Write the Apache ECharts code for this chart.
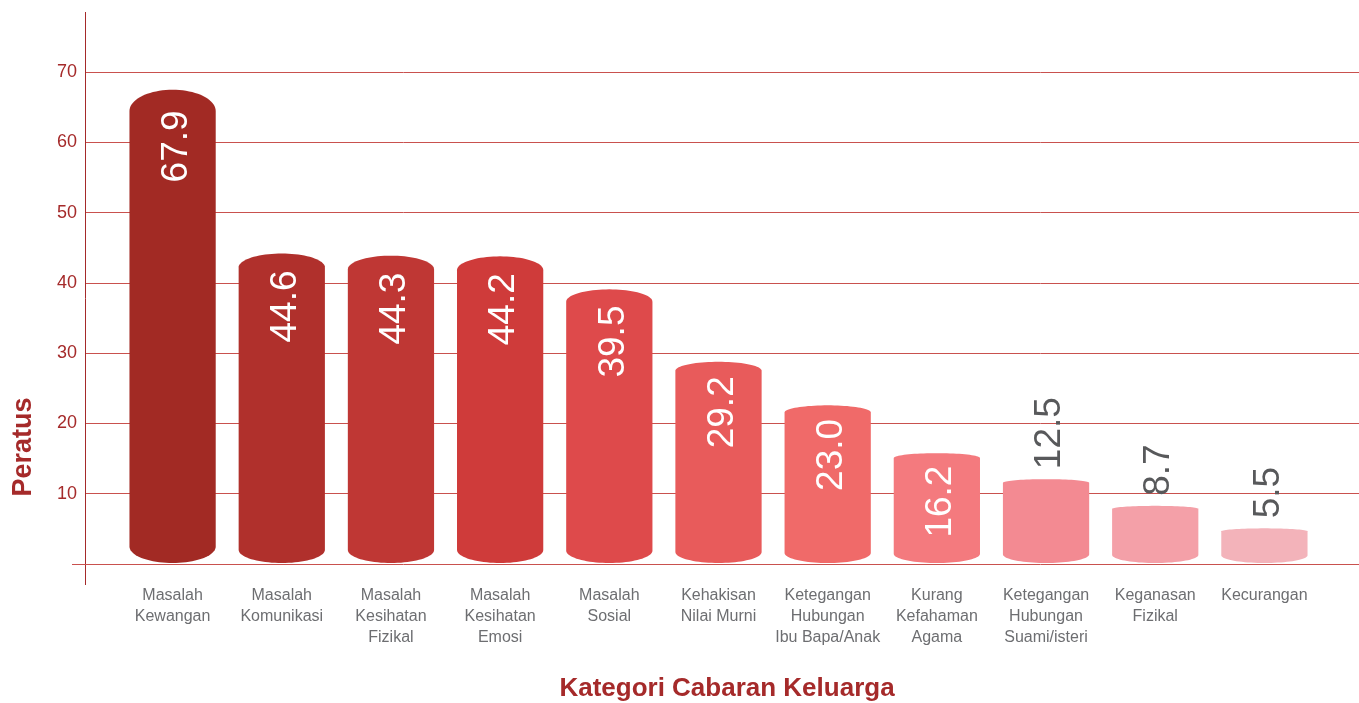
<!DOCTYPE html>
<html>
<head>
<meta charset="utf-8">
<script src="https://cdn.jsdelivr.net/npm/echarts@6/dist/echarts.min.js"></script>
<style>
html,body{margin:0;padding:0;background:#fff;}
#chart{width:1359px;height:703px;}
</style>
</head>
<body>
<div id="chart"></div>
<script>
const categories = [
  "Masalah\nKewangan",
  "Masalah\nKomunikasi",
  "Masalah\nKesihatan\nFizikal",
  "Masalah\nKesihatan\nEmosi",
  "Masalah\nSosial",
  "Kehakisan\nNilai Murni",
  "Ketegangan\nHubungan\nIbu Bapa/Anak",
  "Kurang\nKefahaman\nAgama",
  "Ketegangan\nHubungan\nSuami/isteri",
  "Keganasan\nFizikal",
  "Kecurangan"
];
const values = [67.9, 44.6, 44.3, 44.2, 39.5, 29.2, 23.0, 16.2, 12.5, 8.7, 5.5];
const yTicks = [0, 10, 20, 30, 40, 50, 60, 70];
const barColors = ["#a22a24", "#b0302c", "#bf3734", "#cf3b3a", "#de4a4b", "#e85b5b", "#f06a69", "#f47a7e", "#f38a92", "#f4a0a8", "#f3b3ba"];

const RED = "#a52a2a";
const FONT = "'Liberation Sans', Arial, Helvetica, sans-serif";

const chart = echarts.init(document.getElementById('chart'), null, {renderer: 'canvas'});

function renderBar(params, api) {
  const i = api.value(0);
  const v = api.value(1);
  const topPt = api.coord([i, v]);
  const basePt = api.coord([i, 0]);
  const band = api.size([1, 0])[0];
  const rx = band * 0.79 / 2;
  const cx = topPt[0];
  const yTop = topPt[1] + 3;
  const yBot = basePt[1] - 1;
  const h = yBot - yTop;
  const ryT = Math.max(3, 0.045 * h);
  const ryB = 7 + 0.02 * h;
  const pts = [];
  const N = 40;
  for (let k = 0; k <= N; k++) {
    const a = Math.PI + Math.PI * k / N;
    pts.push([cx + rx * Math.cos(a), yTop + ryT + ryT * Math.sin(a)]);
  }
  for (let k = 0; k <= N; k++) {
    const a = Math.PI * k / N;
    pts.push([cx + rx * Math.cos(a), yBot - ryB + ryB * Math.sin(a)]);
  }
  const inside = v > 15;
  const children = [
    {
      type: 'polygon',
      shape: {points: pts},
      style: {fill: barColors[params.dataIndex % barColors.length]}
    },
    {
      type: 'text',
      x: cx + 4,
      y: inside ? yTop + 10 + 0.5 * ryT : yTop - 10,
      rotation: Math.PI / 2,
      style: {
        text: v.toFixed(1),
        fill: inside ? '#ffffff' : '#58595b',
        fontSize: 37,
        fontFamily: FONT,
        align: inside ? 'right' : 'left',
        verticalAlign: 'middle'
      }
    }
  ];
  return {type: 'group', children: children};
}

const option = {
  animation: false,
  backgroundColor: '#ffffff',
  grid: [
    {left: 85, right: 0, top: 72, bottom: 139},
    {left: 118, right: 40, top: 72, bottom: 139}
  ],
  xAxis: [
    {gridIndex: 0, type: 'value', show: false, min: 0, max: 1},
    {
      gridIndex: 1,
      type: 'category',
      data: categories,
      axisLine: {show: false},
      axisTick: {show: false},
      axisLabel: {
        interval: 0,
        margin: 21,
        color: '#6d6e71',
        fontSize: 16,
        lineHeight: 21,
        fontFamily: FONT
      }
    }
  ],
  yAxis: [
    {
      gridIndex: 0,
      type: 'value',
      min: yTicks[0],
      max: yTicks[yTicks.length - 1],
      interval: yTicks[1] - yTicks[0],
      axisLine: {show: false},
      axisTick: {show: false},
      axisLabel: {
        color: RED,
        fontSize: 18,
        margin: 8,
        fontFamily: FONT,
        formatter: function (v) { return v === 0 ? '' : String(v); }
      },
      splitLine: {show: true, lineStyle: {color: '#c9514e', width: 1}}
    },
    {
      gridIndex: 1,
      type: 'value',
      min: yTicks[0],
      max: yTicks[yTicks.length - 1],
      show: false,
      splitLine: {show: false}
    }
  ],
  graphic: [
    {type: 'line', shape: {x1: 85.5, y1: 12, x2: 85.5, y2: 585}, style: {stroke: RED, lineWidth: 1}, z: 10},
    {type: 'line', shape: {x1: 72, y1: 564.5, x2: 86, y2: 564.5}, style: {stroke: '#c9514e', lineWidth: 1}, z: 10},
    {
      type: 'text', x: 23.5, y: 447, rotation: Math.PI / 2,
      style: {text: 'Peratus', fill: RED, fontSize: 27, fontWeight: 'bold', fontFamily: FONT, align: 'center', verticalAlign: 'middle'}
    },
    {
      type: 'text', x: 727, y: 689,
      style: {text: 'Kategori Cabaran Keluarga', fill: RED, fontSize: 26, fontWeight: 'bold', fontFamily: FONT, align: 'center', verticalAlign: 'middle'}
    }
  ],
  series: [
    {
      type: 'custom',
      xAxisIndex: 1,
      yAxisIndex: 1,
      renderItem: renderBar,
      clip: false,
      data: values.map(function (v, i) { return [i, v]; }),
      z: 5
    }
  ]
};

chart.setOption(option);
</script>
</body>
</html>
